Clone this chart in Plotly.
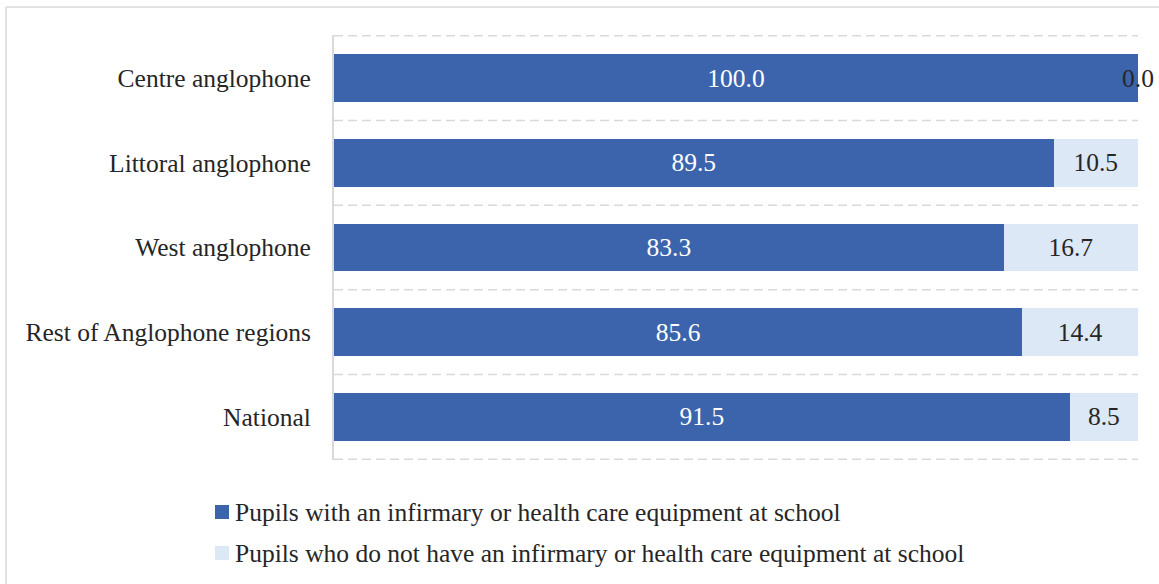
import plotly.graph_objects as go

regions = ["Centre anglophone", "Littoral anglophone", "West anglophone",
           "Rest of Anglophone regions", "National"]
with_infirmary = [100.0, 89.5, 83.3, 85.6, 91.5]
without_infirmary = [0.0, 10.5, 16.7, 14.4, 8.5]

name_with = "Pupils with an infirmary or health care equipment at school"
name_without = "Pupils who do not have an infirmary or health care equipment at school"

DARK = "#3B64AD"
LIGHT = "#DCE8F5"
TEXT = "#262626"
GRID = "#D9D9D9"
FONT = "Liberation Serif"
FS = 25.5

fig = go.Figure()

fig.add_trace(go.Bar(
    y=regions, x=with_infirmary, orientation="h", name=name_with,
    marker=dict(color=DARK, line=dict(width=0)),
    text=[f"{v:.1f}" for v in with_infirmary], textposition="inside",
    insidetextanchor="middle", textfont=dict(color="white", size=FS, family=FONT),
))

# zero-width segment gets its label as an annotation instead
fig.add_trace(go.Bar(
    y=regions, x=without_infirmary, orientation="h", name=name_without,
    marker=dict(color=LIGHT, line=dict(width=0)),
    text=[f"{v:.1f}" if v > 0 else "" for v in without_infirmary], textposition="inside",
    insidetextanchor="middle", textfont=dict(color=TEXT, size=FS, family=FONT),
))

for r, a, b in zip(regions, with_infirmary, without_infirmary):
    if b == 0:
        fig.add_annotation(x=a + b, y=r, text=f"{b:.1f}", showarrow=False,
                           xanchor="center", font=dict(color=TEXT, size=FS, family=FONT))

# dashed separators between categories
for i in range(len(regions) + 1):
    fig.add_shape(type="line", xref="paper", x0=0, x1=1, yref="y", y0=i - 0.5, y1=i - 0.5,
                  line=dict(color=GRID, width=1.5, dash="9px,5px"), layer="below")

L, R, T, B = 334, 21, 35, 124
W, H = 1159, 584
pw, ph = W - L - R, H - T - B
px = lambda p: (p - L) / pw
py = lambda p: (H - B - p) / ph

# outer frame (top and left edges)
fig.add_shape(type="line", xref="paper", yref="paper", x0=px(6), x1=px(W), y0=py(7), y1=py(7),
              line=dict(color=GRID, width=1.5))
fig.add_shape(type="line", xref="paper", yref="paper", x0=px(6), x1=px(6), y0=py(7), y1=py(H),
              line=dict(color=GRID, width=1.5))

# legend drawn by hand so the swatch/text spacing matches
for name, color, yc in [(name_with, DARK, 512), (name_without, LIGHT, 553)]:
    fig.add_shape(type="rect", xref="paper", yref="paper",
                  x0=px(215), x1=px(229), y0=py(yc - 7), y1=py(yc + 7),
                  fillcolor=color, line=dict(width=0))
    fig.add_annotation(xref="paper", yref="paper", x=px(233), y=py(yc), text=name,
                       showarrow=False, xanchor="left", yanchor="middle",
                       font=dict(color=TEXT, size=FS, family=FONT))

fig.update_layout(
    barmode="stack",
    bargap=0.435,
    width=W, height=H,
    margin=dict(l=L, r=R, t=T, b=B),
    paper_bgcolor="white", plot_bgcolor="white",
    font=dict(family=FONT, size=FS, color=TEXT),
    showlegend=False,
    xaxis=dict(range=[0, 100], showgrid=False, showticklabels=False, zeroline=False,
               showline=False, fixedrange=True),
    yaxis=dict(autorange="reversed", showgrid=False, showline=True, linecolor=GRID, linewidth=2,
               ticks="outside", ticklen=16, tickcolor="rgba(0,0,0,0)",
               tickfont=dict(size=FS, color=TEXT, family=FONT)),
)

fig.write_html("out.html", config={"displayModeBar": False},
               post_script="document.body.style.margin='0';")
